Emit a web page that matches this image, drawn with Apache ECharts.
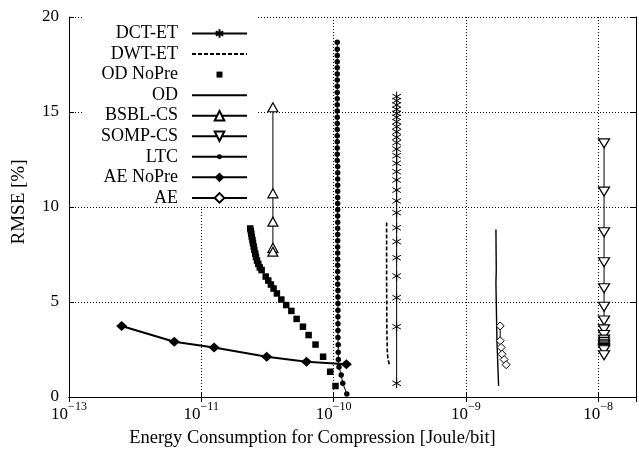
<!DOCTYPE html>
<html>
<head>
<meta charset="utf-8">
<script src="https://cdn.jsdelivr.net/npm/echarts@6/dist/echarts.min.js"></script>
<style>
  html, body { margin: 0; padding: 0; background: #fff; }
  #chart { width: 639px; height: 458px; }
</style>
</head>
<body>
<div id="chart"></div>
<script>
// Energy per bit (Joule/bit) and RMSE (%) for each compression scheme.
const dctEnergy = [3.0e-10, 3.0e-10, 3.0e-10, 3.0e-10, 3.0e-10, 3.0e-10, 3.0e-10, 3.0e-10, 3.0e-10, 3.0e-10,
                   3.0e-10, 3.0e-10, 3.0e-10, 3.0e-10, 3.0e-10, 3.0e-10, 3.0e-10, 3.0e-10, 3.0e-10, 3.0e-10,
                   3.0e-10, 3.0e-10, 3.0e-10, 3.0e-10, 3.0e-10, 3.0e-10];
const dctRmse = [15.81, 15.60, 15.37, 15.14, 14.93, 14.72, 14.49, 14.23, 13.96, 13.67,
                 13.39, 13.05, 12.70, 12.30, 11.86, 11.42, 10.89, 10.32, 9.70, 8.91,
                 8.18, 7.33, 6.37, 5.23, 3.70, 0.72];

const dwtEnergy = [2.52e-10, 2.52e-10, 2.53e-10, 2.55e-10, 2.58e-10, 2.65e-10];
const dwtRmse = [9.19, 6.0, 3.5, 2.4, 2.0, 1.68];

const odNoPreEnergy = [2.345e-11, 2.37e-11, 2.39e-11, 2.41e-11, 2.44e-11, 2.46e-11, 2.49e-11, 2.52e-11, 2.56e-11, 2.59e-11,
                       2.64e-11, 2.70e-11, 2.77e-11, 2.86e-11, 3.07e-11, 3.21e-11, 3.36e-11, 3.52e-11, 3.73e-11, 4.03e-11,
                       4.39e-11, 4.80e-11, 5.26e-11, 5.87e-11, 6.48e-11, 7.31e-11, 8.34e-11, 9.44e-11, 1.035e-10];
const odNoPreRmse = [8.87, 8.74, 8.58, 8.42, 8.26, 8.11, 7.92, 7.74, 7.55, 7.37,
                     7.18, 7.00, 6.82, 6.68, 6.34, 6.13, 5.92, 5.71, 5.45, 5.13,
                     4.84, 4.53, 4.11, 3.70, 3.26, 2.76, 2.12, 1.33, 0.58];

const odEnergy = [1.69e-9, 1.70e-9, 1.69e-9, 1.72e-9, 1.77e-9];
const odRmse = [8.82, 6.7, 6.0, 3.0, 0.58];

const bsblEnergy = [3.48e-11, 3.48e-11, 3.48e-11, 3.48e-11, 3.48e-11];
const bsblRmse = [15.25, 10.72, 9.23, 7.85, 7.65];

const sompEnergy = [1.11e-8, 1.11e-8, 1.11e-8, 1.11e-8, 1.11e-8, 1.11e-8, 1.11e-8, 1.11e-8, 1.11e-8,
                    1.11e-8, 1.11e-8, 1.11e-8, 1.11e-8, 1.11e-8, 1.11e-8, 1.11e-8, 1.11e-8, 1.11e-8];
const sompRmse = [13.35, 10.81, 8.67, 7.09, 5.72, 4.75, 4.03, 3.56, 3.26,
                  3.02, 2.90, 2.80, 2.72, 2.65, 2.58, 2.52, 2.46, 2.20];

const ltcEnergy = [1.067e-10, 1.067e-10, 1.067e-10, 1.067e-10, 1.067e-10, 1.067e-10, 1.067e-10, 1.067e-10, 1.067e-10, 1.067e-10,
                   1.067e-10, 1.067e-10, 1.067e-10, 1.067e-10, 1.067e-10, 1.067e-10, 1.067e-10, 1.067e-10, 1.067e-10, 1.067e-10,
                   1.075e-10, 1.075e-10, 1.075e-10, 1.075e-10, 1.075e-10, 1.075e-10, 1.075e-10, 1.075e-10, 1.075e-10, 1.075e-10,
                   1.075e-10, 1.075e-10, 1.075e-10, 1.075e-10, 1.075e-10, 1.075e-10, 1.075e-10, 1.075e-10, 1.075e-10, 1.075e-10,
                   1.080e-10, 1.080e-10, 1.080e-10, 1.080e-10, 1.080e-10, 1.080e-10, 1.080e-10, 1.080e-10, 1.085e-10, 1.085e-10,
                   1.088e-10, 1.10e-10, 1.143e-10, 1.175e-10, 1.26e-10];
const ltcRmse = [18.67, 18.30, 17.98, 17.65, 17.33, 17.00, 16.68, 16.35, 16.03, 15.70,
                 15.38, 15.05, 14.73, 14.40, 14.08, 13.75, 13.43, 13.10, 12.78, 12.45,
                 12.13, 11.80, 11.48, 11.15, 10.83, 10.50, 10.18, 9.85, 9.53, 9.20,
                 8.88, 8.55, 8.23, 7.90, 7.58, 7.25, 6.93, 6.60, 6.27, 5.93,
                 5.60, 5.26, 4.92, 4.57, 4.22, 3.86, 3.50, 3.13, 2.75, 2.36,
                 1.97, 1.58, 1.16, 0.72, 0.16];

const aeNoPreEnergy = [2.5e-12, 6.25e-12, 1.25e-11, 3.125e-11, 6.25e-11, 1.25e-10];
const aeNoPreRmse = [3.74, 2.91, 2.60, 2.12, 1.86, 1.72];

const aeEnergy = [1.82e-9, 1.82e-9, 1.85e-9, 1.88e-9, 1.95e-9, 2.02e-9];
const aeRmse = [3.74, 2.96, 2.61, 2.25, 1.97, 1.70];

// Axis ticks: decade positions and the exponents printed under them.
const xTickExps = [-12, -11, -10, -9, -8];
const xTickSup = ['\u221213', '\u221211', '\u221210', '\u22129', '\u22128'];
const yTicks = [0, 5, 10, 15, 20];

const seriesNames = ['DCT-ET', 'DWT-ET', 'OD NoPre', 'OD', 'BSBL-CS', 'SOMP-CS', 'LTC', 'AE NoPre', 'AE'];

const SERIF = '"Liberation Serif", "Times New Roman", "DejaVu Serif", serif';

// Marker shapes; the leading move-to points pad the box so the marker keeps its size in the legend.
const ASTERISK = 'path://M-1.12,-1.12M1.12,1.12M0,-1L0,1M-0.87,-0.5L0.87,0.5M-0.87,0.5L0.87,-0.5';
const DOT = 'path://M-1,-1M1,1M-0.52,0A0.52,0.52,0,1,1,0.52,0A0.52,0.52,0,1,1,-0.52,0Z';
const SQUARE = 'path://M-1,-1M1,1M-0.5,-0.5L0.5,-0.5L0.5,0.5L-0.5,0.5Z';
const NOTHING = 'path://M0,0M1,1';

function pairs(xs, ys) {
  return xs.map((x, i) => [x, ys[i]]);
}

const black = '#000';

const chart = echarts.init(document.getElementById('chart'), null, { renderer: 'canvas' });

const xMin = 1e-12;
const xMax = 1.936e-8;

function xLabel(value) {
  const lg = Math.log10(value);
  const e = Math.round(lg);
  if (Math.abs(lg - e) > 1e-6) return '';
  const i = xTickExps.indexOf(e);
  return i < 0 ? '' : '{b|10}{s|' + xTickSup[i] + '}';
}

const option = {
  animation: false,
  backgroundColor: '#fff',
  grid: { left: 69, right: 2, top: 17, bottom: 61, containLabel: false },
  legend: {
    orient: 'vertical',
    align: 'right',
    right: 381,
    top: 17,
    padding: [7.5, 10, 0, 19],
    backgroundColor: '#fff',
    itemWidth: 55,
    itemHeight: 12,
    itemGap: 2.55,
    selectedMode: false,
    textStyle: { fontFamily: SERIF, fontSize: 18, lineHeight: 17, color: black, padding: [0, 9, 0, 0] },
    data: seriesNames
  },
  xAxis: [
    {
      type: 'log',
      logBase: 10,
      min: xMin,
      max: xMax,
      position: 'bottom',
      axisLine: { show: true, lineStyle: { color: black, width: 1 } },
      axisTick: { show: true, inside: true, length: 5, lineStyle: { color: black } },
      minorTick: { show: false },
      splitLine: { show: true, lineStyle: { color: black, width: 1, type: [1, 2] } },
      axisLabel: {
        margin: 4,
        formatter: xLabel,
        rich: {
          b: { fontFamily: SERIF, fontSize: 17, color: black, lineHeight: 22, verticalAlign: 'bottom' },
          s: { fontFamily: SERIF, fontSize: 12, color: black, lineHeight: 12, verticalAlign: 'top' }
        }
      },
      name: 'Energy Consumption for Compression [Joule/bit]',
      nameLocation: 'middle',
      nameGap: 32,
      nameTextStyle: { fontFamily: SERIF, fontSize: 18.5, color: black, padding: [0, 80, 0, 0] }
    },
    {
      type: 'log',
      logBase: 10,
      min: xMin,
      max: xMax,
      position: 'top',
      z: 10,
      axisLine: { show: true, lineStyle: { color: black, width: 1 } },
      axisTick: { show: true, inside: true, length: 5, lineStyle: { color: black } },
      minorTick: { show: false },
      splitLine: { show: false },
      axisLabel: { show: false }
    }
  ],
  yAxis: [
    {
      type: 'value',
      min: yTicks[0],
      max: yTicks[yTicks.length - 1],
      interval: yTicks[1] - yTicks[0],
      position: 'left',
      axisLine: { show: true, lineStyle: { color: black, width: 1 } },
      axisTick: { show: true, inside: true, length: 5, lineStyle: { color: black } },
      splitLine: { show: true, lineStyle: { color: black, width: 1, type: [1, 2] } },
      axisLabel: { margin: 10, fontFamily: SERIF, fontSize: 17, color: black },
      name: 'RMSE [%]',
      nameLocation: 'middle',
      nameGap: 40,
      nameTextStyle: { fontFamily: SERIF, fontSize: 19, color: black, padding: [0, 0, 0, 10] }
    },
    {
      type: 'value',
      min: yTicks[0],
      max: yTicks[yTicks.length - 1],
      interval: yTicks[1] - yTicks[0],
      position: 'right',
      z: 10,
      axisLine: { show: true, lineStyle: { color: black, width: 1 } },
      axisTick: { show: true, inside: true, length: 5, lineStyle: { color: black } },
      splitLine: { show: false },
      axisLabel: { show: false }
    }
  ],
  series: [
    {
      name: 'DCT-ET', type: 'line', data: pairs(dctEnergy, dctRmse),
      symbol: ASTERISK, symbolSize: 11,
      itemStyle: { color: black, borderColor: black, borderWidth: 1 },
      lineStyle: { color: black, width: 1 }
    },
    {
      name: 'DWT-ET', type: 'line', data: pairs(dwtEnergy, dwtRmse),
      symbol: NOTHING, showSymbol: false,
      itemStyle: { color: black },
      lineStyle: { color: black, width: 1.6, type: [4, 2] }
    },
    {
      name: 'OD NoPre', type: 'scatter', data: pairs(odNoPreEnergy, odNoPreRmse),
      symbol: SQUARE, symbolSize: 13,
      itemStyle: { color: black, opacity: 1 }
    },
    {
      name: 'OD', type: 'line', data: pairs(odEnergy, odRmse),
      symbol: NOTHING, showSymbol: false,
      itemStyle: { color: black },
      lineStyle: { color: black, width: 1.4 }
    },
    {
      name: 'BSBL-CS', type: 'line', data: pairs(bsblEnergy, bsblRmse),
      symbol: 'triangle', symbolSize: [10, 9],
      itemStyle: { color: '#fff', borderColor: black, borderWidth: 1.2 },
      lineStyle: { color: black, width: 1 }
    },
    {
      name: 'SOMP-CS', type: 'line', data: pairs(sompEnergy, sompRmse),
      symbol: 'triangle', symbolRotate: 180, symbolSize: [11, 9],
      itemStyle: { color: '#fff', borderColor: black, borderWidth: 1.2 },
      lineStyle: { color: black, width: 1 }
    },
    {
      name: 'LTC', type: 'line', data: pairs(ltcEnergy, ltcRmse),
      symbol: DOT, symbolSize: 10.5,
      itemStyle: { color: black, borderWidth: 0 },
      lineStyle: { color: black, width: 1 }
    },
    {
      name: 'AE NoPre', type: 'line', data: pairs(aeNoPreEnergy, aeNoPreRmse),
      symbol: 'diamond', symbolSize: [11, 10],
      itemStyle: { color: black },
      lineStyle: { color: black, width: 2 }
    },
    {
      name: 'AE', type: 'line', data: pairs(aeEnergy, aeRmse),
      symbol: 'diamond', symbolSize: 8,
      itemStyle: { color: '#fff', borderColor: black, borderWidth: 1 },
      lineStyle: { color: black, width: 1 }
    }
  ]
};

chart.setOption(option);
</script>
</body>
</html>
